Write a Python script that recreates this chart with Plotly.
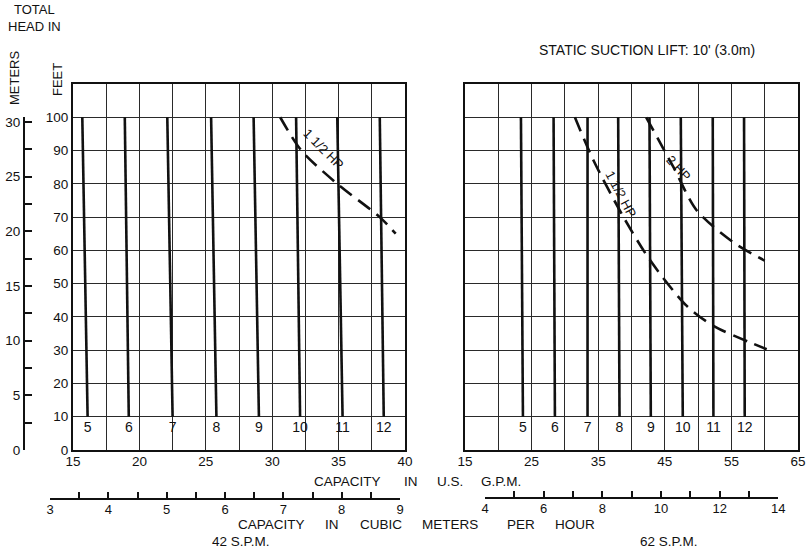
import plotly.graph_objects as go

# ---------------- data ----------------
pump_labels = ["5", "6", "7", "8", "9", "10", "11", "12"]
# 42 S.P.M. panel: capacity (US gpm) at 100 ft and at 10 ft head
left_top_gpm = [15.7, 18.9, 22.1, 25.4, 28.6, 31.8, 34.9, 38.1]
left_bot_gpm = [16.1, 19.2, 22.5, 25.8, 29.0, 32.1, 35.3, 38.4]
# 62 S.P.M. panel
right_top_gpm = [23.4, 28.3, 33.4, 38.0, 42.7, 47.4, 52.2, 56.9]
right_bot_gpm = [23.7, 28.5, 33.4, 38.2, 42.9, 47.7, 52.3, 57.0]
head_range_ft = [100, 10]
label_head_ft = 6.5

# horsepower limit curves
left_hp15_gpm = [30.6, 32.2, 34.9, 38.1, 39.3]
left_hp15_ft = [100, 90, 80, 70, 65]
right_hp15_gpm = [31.5, 34.3, 38.8, 42.8, 48.3, 52.3, 60.3]
right_hp15_ft = [100, 87, 70, 57, 43.3, 37.3, 30.3]
right_hp2_gpm = [42.2, 46.3, 49.8, 55.3, 60.0]
right_hp2_ft = [100, 85, 72, 62.4, 56.9]

left_gpm_ticks = [15, 20, 25, 30, 35, 40]
right_gpm_ticks = [15, 25, 35, 45, 55, 65]
feet_ticks = [0, 10, 20, 30, 40, 50, 60, 70, 80, 90, 100]
meter_ticks = [0, 5, 10, 15, 20, 25, 30]
left_m3h_ticks = [3, 4, 5, 6, 7, 8, 9]
right_m3h_ticks = [4, 6, 8, 10, 12, 14]

# ---------------- layout helpers ----------------
W, H = 809, 555
def fx(p):
    return p / W
def fy(p):
    return 1 - p / H

FONT = "Liberation Sans"
INK = "#111111"
GRID = "#2a2a2a"
CLEAR = "rgba(0,0,0,0)"

fig = go.Figure()

for tops, bots, xa, ya in [(left_top_gpm, left_bot_gpm, "x", "y"),
                           (right_top_gpm, right_bot_gpm, "x2", "y2")]:
    for t, b in zip(tops, bots):
        fig.add_trace(go.Scatter(x=[t, b], y=head_range_ft, mode="lines",
                                 line=dict(color=INK, width=2.6),
                                 xaxis=xa, yaxis=ya, showlegend=False, hoverinfo="skip"))
    fig.add_trace(go.Scatter(x=bots, y=[label_head_ft] * len(bots), mode="text",
                             text=pump_labels, textposition="middle center",
                             textfont=dict(family=FONT, size=14, color=INK),
                             xaxis=xa, yaxis=ya, showlegend=False, hoverinfo="skip"))

dash_line = dict(color=INK, width=2.6, dash="15px,8px", shape="spline", smoothing=0.8)
fig.add_trace(go.Scatter(x=left_hp15_gpm, y=left_hp15_ft, mode="lines", line=dash_line,
                         xaxis="x", yaxis="y", showlegend=False, hoverinfo="skip"))
fig.add_trace(go.Scatter(x=right_hp15_gpm, y=right_hp15_ft, mode="lines", line=dash_line,
                         xaxis="x2", yaxis="y2", showlegend=False, hoverinfo="skip"))
fig.add_trace(go.Scatter(x=right_hp2_gpm, y=right_hp2_ft, mode="lines", line=dash_line,
                         xaxis="x2", yaxis="y2", showlegend=False, hoverinfo="skip"))

# dummy traces so that the auxiliary scales are drawn
fig.add_trace(go.Scatter(x=[None], y=[None], xaxis="x5", yaxis="y3", showlegend=False, hoverinfo="skip"))
fig.add_trace(go.Scatter(x=[None], y=[None], xaxis="x3", yaxis="y4", showlegend=False, hoverinfo="skip"))
fig.add_trace(go.Scatter(x=[None], y=[None], xaxis="x4", yaxis="y4", showlegend=False, hoverinfo="skip"))

y_dom = [fy(450), fy(84)]
tickfont = dict(family=FONT, size=13.5, color=INK)

common_x = dict(showline=True, linecolor=INK, linewidth=2, mirror=True, ticks="",
                showgrid=True, gridcolor=GRID, gridwidth=1.3, zeroline=False,
                tickfont=tickfont, fixedrange=True, automargin=False, ticklabelstandoff=-2)
common_y = dict(range=[0, 110], tickvals=feet_ticks, showline=True, linecolor=INK,
                linewidth=2, mirror=True, ticks="", showgrid=True, gridcolor=GRID,
                gridwidth=1.3, zeroline=False, tickfont=tickfont, domain=y_dom,
                fixedrange=True, automargin=False)
aux = dict(showline=True, linecolor=INK, linewidth=2, showgrid=False, zeroline=False,
           tickfont=tickfont, fixedrange=True, automargin=False, tickcolor=INK, tickwidth=1.6)

fig.update_layout(
    width=W, height=H, margin=dict(l=0, r=0, t=0, b=0, pad=0),
    paper_bgcolor="white", plot_bgcolor=CLEAR, showlegend=False,
    xaxis=dict(common_x, domain=[fx(73), fx(405)], range=[15, 40], tickvals=left_gpm_ticks,
               minor=dict(dtick=2.5, showgrid=True, gridcolor=GRID, gridwidth=1.3), anchor="y"),
    yaxis=dict(common_y, anchor="x"),
    xaxis2=dict(common_x, domain=[fx(465), fx(798)], range=[15, 65], tickvals=right_gpm_ticks,
                minor=dict(dtick=5, showgrid=True, gridcolor=GRID, gridwidth=1.3), anchor="y2"),
    yaxis2=dict(common_y, anchor="x2", showticklabels=False),
    # meters scale
    yaxis3=dict(aux, domain=[fy(450), fy(116.7)], range=[0, 100 / 3.2808], anchor="free",
                position=fx(24), side="left", tickvals=meter_ticks, ticks="inside", ticklen=7,
                minor=dict(dtick=2.5, ticks="inside", ticklen=7, tickwidth=1.6, tickcolor=INK)),
    xaxis5=dict(visible=False, anchor="y3", range=[0, 1], domain=[0, 0.01], automargin=False),
    # cubic meters per hour scales
    xaxis3=dict(aux, domain=[fx(50), fx(400)], range=[3, 9], anchor="free", position=fy(499),
                side="bottom", tickvals=left_m3h_ticks, ticks="inside", ticklen=6,
                ticklabelstandoff=-2, tickfont=dict(tickfont, size=13),
                minor=dict(dtick=0.5, ticks="inside", ticklen=6, tickwidth=1.6, tickcolor=INK)),
    xaxis4=dict(aux, domain=[fx(485), fx(778.3)], range=[4, 14], anchor="free", position=fy(498.3),
                side="bottom", tickvals=right_m3h_ticks, ticks="inside", ticklen=6,
                ticklabelstandoff=-2, tickfont=dict(tickfont, size=13),
                minor=dict(dtick=1, ticks="inside", ticklen=6, tickwidth=1.6, tickcolor=INK)),
    yaxis4=dict(visible=False, domain=[0, 0.01], range=[0, 1], anchor="x3", automargin=False),
)

def ann(text, x, y, size=14, angle=0, xref="paper", yref="paper"):
    fig.add_annotation(text=text, x=x, y=y, xref=xref, yref=yref, showarrow=False,
                       textangle=angle, font=dict(family=FONT, size=size, color=INK),
                       xanchor="center", yanchor="middle", align="center")

ann("TOTAL<br>HEAD IN", fx(34), fy(18), size=13)
ann("METERS", fx(14), fy(78), size=13, angle=-90)
ann("FEET", fx(58), fy(80), size=13, angle=-90)
ann("STATIC SUCTION LIFT: 10' (3.0m)", fx(647), fy(50), size=14)

words_gpm = [("CAPACITY", 347), ("IN", 411), ("U.S.", 450), ("G.P.M.", 501)]
for w, xp in words_gpm:
    ann(w, fx(xp), fy(481), size=13.5)
words_m3h = [("CAPACITY", 271), ("IN", 332), ("CUBIC", 381), ("METERS", 450),
             ("PER", 521), ("HOUR", 575)]
for w, xp in words_m3h:
    ann(w, fx(xp), fy(524), size=13.5)
ann("42 S.P.M.", fx(241), fy(541), size=13.5)
ann("62 S.P.M.", fx(669), fy(541), size=13.5)

# curve labels (data coordinates)
ann("1 1/2 HP", 33.9, 90.3, size=13, angle=45, xref="x", yref="y")
ann("1 1/2 HP", 38.4, 76.7, size=13, angle=62, xref="x2", yref="y2")
ann("2 HP", 47.1, 84.6, size=13, angle=48, xref="x2", yref="y2")

# the page's default 8px body margin would shift the 809x555 figure; remove it
fig.write_html("out.html", config={"displayModeBar": False},
               post_script="document.body.style.margin='0px';")
